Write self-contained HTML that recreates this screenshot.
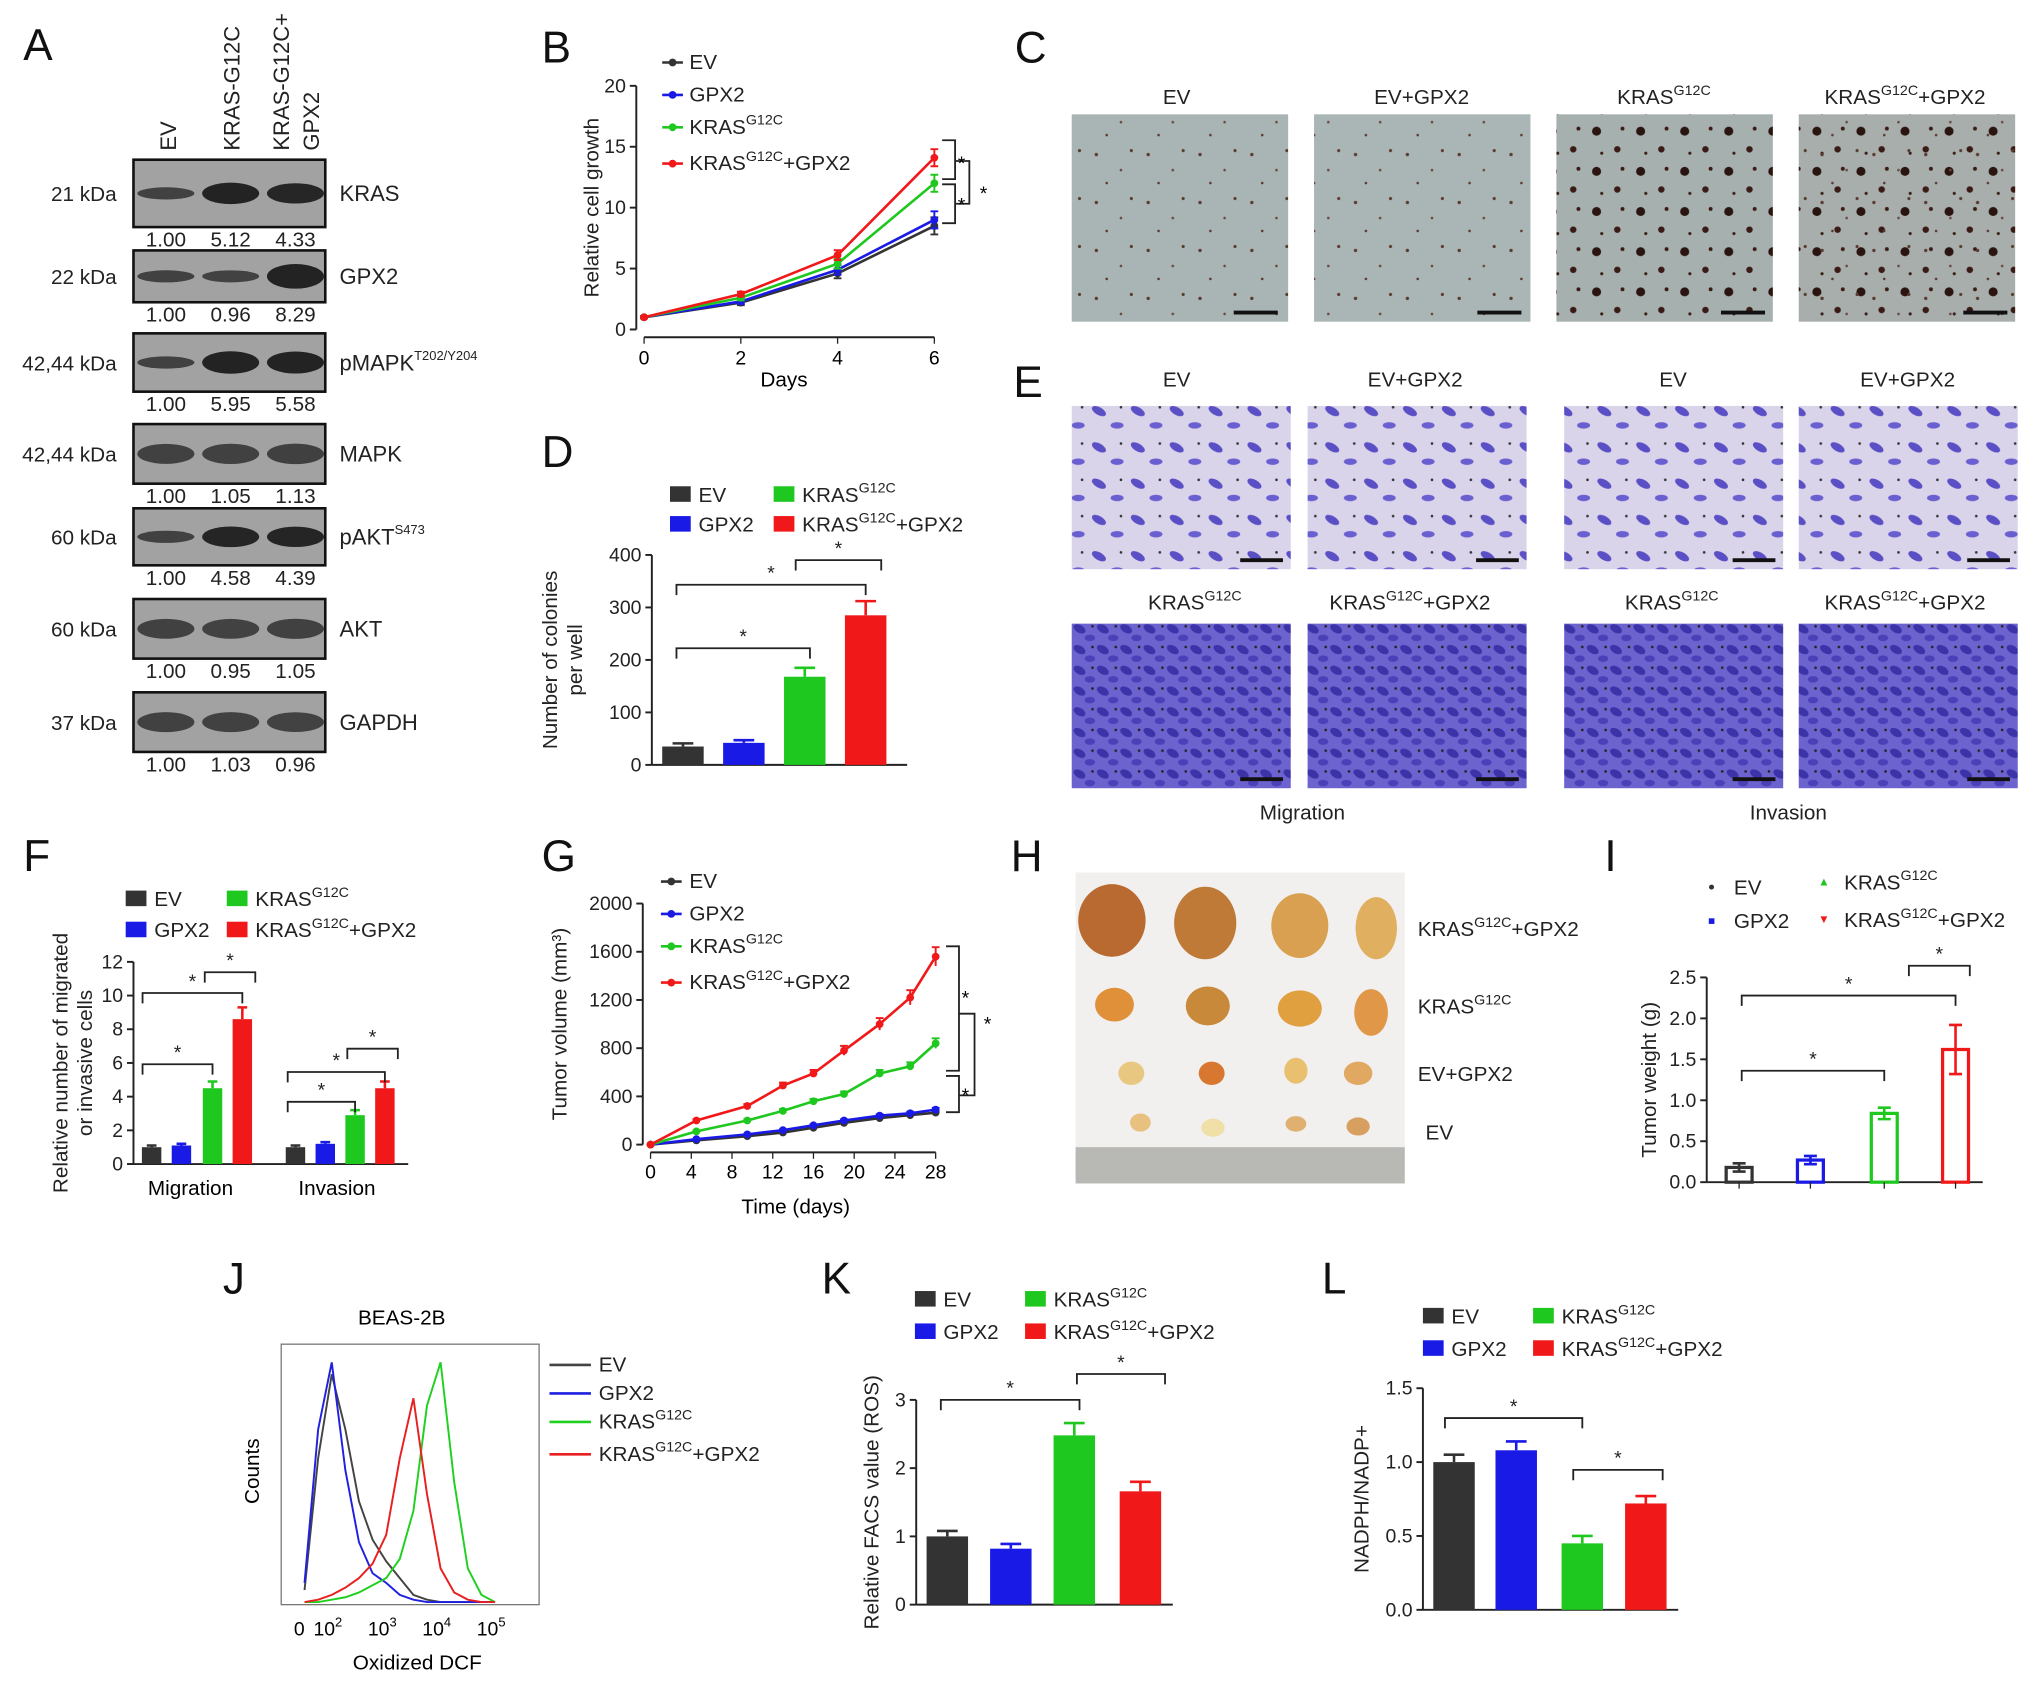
<!DOCTYPE html>
<html><head><meta charset="utf-8"><style>
html,body{margin:0;padding:0;background:#fff;}
svg{display:block;font-family:"Liberation Sans",Arial,sans-serif;}
</style></head><body>
<svg id="fig" width="2032" height="1684" viewBox="0 0 1568 1299" xmlns="http://www.w3.org/2000/svg">
<defs>
<pattern id="colony" width="40" height="37" patternUnits="userSpaceOnUse"><circle cx="6" cy="8" r="1.3" fill="#5a3a30"/><circle cx="25" cy="20" r="1" fill="#6a4a40"/><circle cx="33" cy="5" r="1.2" fill="#5a3a30"/><circle cx="14" cy="30" r="1" fill="#5a3a30"/></pattern>
<pattern id="colonyBig" width="34" height="31" patternUnits="userSpaceOnUse"><circle cx="8" cy="8" r="3.5" fill="#2a1410"/><circle cx="24" cy="22" r="2.5" fill="#3a1a14"/><circle cx="28" cy="6" r="1.5" fill="#3a1a14"/><circle cx="12" cy="25" r="1.2" fill="#3a1a14"/></pattern>
<pattern id="cellsLow" width="30" height="28" patternUnits="userSpaceOnUse"><rect width="30" height="28" fill="#d9d4ea"/><ellipse cx="8" cy="9" rx="6" ry="3" fill="#5a4fc4" transform="rotate(30 8 9)"/><ellipse cx="22" cy="20" rx="5" ry="2.5" fill="#6a5fd0"/><circle cx="25" cy="6" r="1" fill="#333"/></pattern>
<pattern id="cellsHigh" width="18" height="16" patternUnits="userSpaceOnUse"><rect width="18" height="16" fill="#6c63cf"/><ellipse cx="5" cy="5" rx="5" ry="3" fill="#3c33a8" transform="rotate(30 5 5)"/><ellipse cx="13" cy="12" rx="4" ry="2.5" fill="#4a40b8"/><circle cx="15" cy="3" r="1" fill="#222"/></pattern>
</defs>

<g font-size="34" fill="#111">
<text x="18" y="46">A</text><text x="418" y="48">B</text><text x="783" y="48">C</text>
<text x="418" y="360">D</text><text x="782" y="306">E</text><text x="18" y="672">F</text>
<text x="418" y="672">G</text><text x="780" y="672">H</text><text x="1238" y="672">I</text>
<text x="172" y="998">J</text><text x="634" y="998">K</text><text x="1020" y="998">L</text>
</g>

<g font-size="17" fill="#222">
<text transform="translate(136,116) rotate(-90)">EV</text>
<text transform="translate(185,116) rotate(-90)">KRAS-G12C</text>
<text transform="translate(223,116) rotate(-90)">KRAS-G12C+</text>
<text transform="translate(246,116) rotate(-90)">GPX2</text>
<g id="blots"></g>
</g>

<g font-size="16" fill="#222" text-anchor="middle">
<rect x="827" y="88" width="167" height="160" fill="#a9b4b4"/><rect x="827" y="88" width="167" height="160" fill="url(#colony)"/>
<rect x="1014" y="88" width="167" height="160" fill="#aab5b5"/><rect x="1014" y="88" width="167" height="160" fill="url(#colony)"/>
<rect x="1201" y="88" width="167" height="160" fill="#a6b0ae"/><rect x="1201" y="88" width="167" height="160" fill="url(#colonyBig)"/>
<rect x="1388" y="88" width="167" height="160" fill="#a7aeac"/><rect x="1388" y="88" width="167" height="160" fill="url(#colonyBig)"/><rect x="1388" y="88" width="167" height="160" fill="url(#colony)"/>
<g stroke="#111" stroke-width="3"><line x1="952" y1="241" x2="986" y2="241"/><line x1="1140" y1="241" x2="1174" y2="241"/><line x1="1328" y1="241" x2="1362" y2="241"/><line x1="1515" y1="241" x2="1549" y2="241"/></g>
<text x="908" y="80">EV</text><text x="1097" y="80">EV+GPX2</text>
<text x="1284" y="80">KRAS<tspan font-size="11" dy="-7">G12C</tspan></text>
<text x="1470" y="80">KRAS<tspan font-size="11" dy="-7">G12C</tspan><tspan dy="7">+GPX2</tspan></text>
</g>

<g font-size="16" fill="#222" text-anchor="middle">
<rect x="827" y="313" width="169" height="126" fill="url(#cellsLow)"/>
<rect x="1009" y="313" width="169" height="126" fill="url(#cellsLow)"/>
<rect x="1207" y="313" width="169" height="126" fill="url(#cellsLow)"/>
<rect x="1388" y="313" width="169" height="126" fill="url(#cellsLow)"/>
<rect x="827" y="481" width="169" height="127" fill="url(#cellsHigh)"/>
<rect x="1009" y="481" width="169" height="127" fill="url(#cellsHigh)"/>
<rect x="1207" y="481" width="169" height="127" fill="url(#cellsHigh)"/>
<rect x="1388" y="481" width="169" height="127" fill="url(#cellsHigh)"/>
<g stroke="#111" stroke-width="3"><line x1="957" y1="432" x2="990" y2="432"/><line x1="1139" y1="432" x2="1172" y2="432"/><line x1="1337" y1="432" x2="1370" y2="432"/><line x1="1518" y1="432" x2="1551" y2="432"/><line x1="957" y1="601" x2="990" y2="601"/><line x1="1139" y1="601" x2="1172" y2="601"/><line x1="1337" y1="601" x2="1370" y2="601"/><line x1="1518" y1="601" x2="1551" y2="601"/></g>
<text x="908" y="298">EV</text><text x="1092" y="298">EV+GPX2</text><text x="1291" y="298">EV</text><text x="1472" y="298">EV+GPX2</text>
<text x="922" y="470">KRAS<tspan font-size="11" dy="-7">G12C</tspan></text>
<text x="1088" y="470">KRAS<tspan font-size="11" dy="-7">G12C</tspan><tspan dy="7">+GPX2</tspan></text>
<text x="1290" y="470">KRAS<tspan font-size="11" dy="-7">G12C</tspan></text>
<text x="1470" y="470">KRAS<tspan font-size="11" dy="-7">G12C</tspan><tspan dy="7">+GPX2</tspan></text>
<text x="1005" y="632">Migration</text>
<text x="1380" y="632">Invasion</text>
</g>

<g>
<rect x="830" y="673" width="254" height="240" fill="#f1f0ee"/>
<rect x="830" y="885" width="254" height="28" fill="#b8b8b4"/>
<g fill="#c88a3a"><ellipse cx="858" cy="710" rx="26" ry="28" fill="#b86a30"/><ellipse cx="930" cy="712" rx="24" ry="28" fill="#c07a38"/><ellipse cx="1003" cy="714" rx="22" ry="25" fill="#d8a050"/><ellipse cx="1062" cy="716" rx="16" ry="24" fill="#e0b060"/>
<ellipse cx="860" cy="775" rx="15" ry="13" fill="#e09038"/><ellipse cx="932" cy="776" rx="17" ry="15"/><ellipse cx="1003" cy="778" rx="17" ry="14" fill="#e0a040"/><ellipse cx="1058" cy="781" rx="13" ry="18" fill="#e09848"/>
<ellipse cx="873" cy="828" rx="10" ry="9" fill="#e8c880"/><ellipse cx="935" cy="828" rx="10" ry="9" fill="#d87830"/><ellipse cx="1000" cy="826" rx="9" ry="10" fill="#e8c070"/><ellipse cx="1048" cy="828" rx="11" ry="9" fill="#e0a860"/>
<ellipse cx="880" cy="866" rx="8" ry="7" fill="#e8c080"/><ellipse cx="936" cy="870" rx="9" ry="7" fill="#f0e0a8"/><ellipse cx="1000" cy="867" rx="8" ry="6" fill="#e0b070"/><ellipse cx="1048" cy="869" rx="9" ry="7" fill="#d8a060"/></g>
<g font-size="16" fill="#222"><text x="1094" y="722">KRAS<tspan font-size="11" dy="-7">G12C</tspan><tspan dy="7">+GPX2</tspan></text>
<text x="1094" y="782">KRAS<tspan font-size="11" dy="-7">G12C</tspan></text>
<text x="1094" y="834">EV+GPX2</text><text x="1100" y="879">EV</text></g>
</g>

<g id="charts"></g>
</svg>

<script>
const NS="http://www.w3.org/2000/svg";
const root=document.getElementById('charts');
function mk(tag,a,p){const e=document.createElementNS(NS,tag);for(const k in a)e.setAttribute(k,a[k]);(p||root).appendChild(e);return e;}
function txt(s,a,p){const e=mk('text',a,p);e.textContent=s;return e;}
const C={ev:'#333333',gpx2:'#1a1ae6',kras:'#1ec81e',kg:'#f01818'};

const blotProteins=['KRAS','GPX2','pMAPK','MAPK','pAKT','AKT','GAPDH'];
const blotKDa=['21 kDa','22 kDa','42,44 kDa','42,44 kDa','60 kDa','60 kDa','37 kDa'];
const blotQuant=[[1.00,5.12,4.33],[1.00,0.96,8.29],[1.00,5.95,5.58],[1.00,1.05,1.13],[1.00,4.58,4.39],[1.00,0.95,1.05],[1.00,1.03,0.96]];
const blotTop=[123,193,257,327,392,462,534];
const blotH=[52,40,45,46,44,46,46];
(function(){
 const g=document.getElementById('blots');
 blotProteins.forEach((p,i)=>{
  const y=blotTop[i],h=blotH[i];
  const r=mk('rect',{x:103,y:y,width:148,height:h,fill:'#a2a2a2',stroke:'#111','stroke-width':2},g);
  
  
  [128,178,228].forEach((cx,j)=>{
   const q=blotQuant[i][j];const s=Math.min(1,Math.log(1+q)/Math.log(9));
   const b=mk('ellipse',{cx:cx,cy:y+h/2,rx:22,ry:2.5+s*7+(i>=3&&i!==4?3:0),fill:'#151515','fill-opacity':0.45+0.45*Math.min(1,s+0.2)},g);
   
   
   const t=txt(q.toFixed(2),{x:cx,y:y+h+15,'text-anchor':'middle','font-size':16},g);
   
   
  });
  const k=txt(blotKDa[i],{x:90,y:y+h/2+6,'text-anchor':'end','font-size':16},g);
  
  
  const lab=txt(p,{x:262,y:y+h/2+6,'font-size':17},g);
  
  
  if(p==='pMAPK'){const ts=mk('tspan',{'font-size':10,dy:-8},lab);ts.textContent='T202/Y204';}
  if(p==='pAKT'){const ts=mk('tspan',{'font-size':10,dy:-8},lab);ts.textContent='S473';}
 });
})();

function yAxis(x,sy,ticks,fmt,yTop,yBot,title,tx){
 const a=mk('line',{x1:x,y1:yTop,x2:x,y2:yBot,stroke:'#222','stroke-width':1.5});
 
 
 ticks.forEach(v=>{mk('line',{x1:x-5,y1:sy(v),x2:x,y2:sy(v),stroke:'#222','stroke-width':1.5});
  const t=txt(fmt(v),{x:x-8,y:sy(v)+5,'text-anchor':'end','font-size':15,fill:'#222'});
  
  });
 if(title){const t=txt('',{transform:`translate(${tx},${(yTop+yBot)/2}) rotate(-90)`,'text-anchor':'middle','font-size':16,fill:'#222'});
  title.forEach((s,i)=>{const ts=mk('tspan',{x:0,dy:i?19:0},t);ts.textContent=s;});
  
  }
}
function xLine(x1,x2,y){const l=mk('line',{x1:x1,y1:y,x2:x2,y2:y,stroke:'#222','stroke-width':1.5});
 
 }
function bracket(x1,x2,y,label){const p=mk('path',{d:`M${x1},${y+8}V${y}H${x2}V${y+8}`,fill:'none',stroke:'#222','stroke-width':1.4});
 
 
 const t=txt('*',{x:(x1+x2)/2,y:y-4,'text-anchor':'middle','font-size':15,fill:'#222'});
 
 }
function legendText(x,y,label,fs){const t=txt('',{x:x,y:y,'font-size':fs||16,fill:'#222'});
 const parts=label.split('^');const a=mk('tspan',{},t);a.textContent=parts[0];
 if(parts.length>1){const b=mk('tspan',{'font-size':11,dy:-7},t);b.textContent='G12C';const c=mk('tspan',{dy:7},t);c.textContent=parts[1];}
 
 return t;}
function barLegend(items,x1,x2,y1,y2){items.forEach((it,i)=>{const x=i%2?x2:x1,y=i<2?y1:y2;
 const r=mk('rect',{x:x,y:y-12,width:16,height:12,fill:it[1]});
 
 
 legendText(x+22,y,it[0]);});}
const groupNames=['EV','GPX2','KRAS^','KRAS^+GPX2'];
const groupCols=[C.ev,C.gpx2,C.kras,C.kg];
function bars(xs,vals,errs,sy,w,cols,name){vals.forEach((v,i)=>{
 const r=mk('rect',{x:xs[i]-w/2,y:sy(v),width:w,height:sy(0)-sy(v),fill:cols[i%4]});
 
 
 const e=mk('path',{d:`M${xs[i]},${sy(v)}V${sy(v+errs[i])}M${xs[i]-w/4},${sy(v+errs[i])}H${xs[i]+w/4}`,stroke:cols[i%4],'stroke-width':2,fill:'none'});
 
 });}

const bDays=[0,2,4,6];
const bEV=[1,2.2,4.6,8.5],bGPX2=[1,2.3,4.9,9.0],bKRAS=[1,2.6,5.4,12.0],bKG=[1,2.9,6.1,14.1];
const bErr=[0.1,0.2,0.4,0.7];
const bYTicks=[0,5,10,15,20],bXTicks=[0,2,4,6];
(function(){
 const sx=d=>497+d*(224/6),sy=v=>254-v*(188/20);
 yAxis(491,sy,bYTicks,v=>v,66,254,['Relative cell growth'],462);
 xLine(497,721,260);
 bXTicks.forEach(d=>{mk('line',{x1:sx(d),y1:260,x2:sx(d),y2:265,stroke:'#222'});const t=txt(d,{x:sx(d),y:281,'text-anchor':'middle','font-size':15});});
 const xt=txt('Days',{x:605,y:298,'text-anchor':'middle','font-size':16});
 [bEV,bGPX2,bKRAS,bKG].forEach((s,k)=>{
  const l=mk('polyline',{points:s.map((v,i)=>sx(bDays[i])+','+sy(v)).join(' '),fill:'none',stroke:groupCols[k],'stroke-width':2});
  
  
  s.forEach((v,i)=>{const m=mk('circle',{cx:sx(bDays[i]),cy:sy(v),r:3,fill:groupCols[k]});
   mk('path',{d:`M${sx(bDays[i])-3},${sy(v-bErr[i])}h6M${sx(bDays[i])},${sy(v-bErr[i])}V${sy(v+bErr[i])}M${sx(bDays[i])-3},${sy(v+bErr[i])}h6`,stroke:groupCols[k],'stroke-width':1.5});});
  const ly=[53,78,103,131][k];
  mk('line',{x1:511,y1:ly-5,x2:527,y2:ly-5,stroke:groupCols[k],'stroke-width':2});mk('circle',{cx:519,cy:ly-5,r:3,fill:groupCols[k]});
  legendText(532,ly,groupNames[k]);
 });
 mk('path',{d:'M727,108H737V138H727M727,142H737V172H727M737,124H748V157H737',fill:'none',stroke:'#222','stroke-width':1.4});
 txt('*',{x:742,y:131,'font-size':15,'text-anchor':'middle'});txt('*',{x:742,y:163,'font-size':15,'text-anchor':'middle'});txt('*',{x:759,y:154,'font-size':15,'text-anchor':'middle'});
})();

const dVals=[35,42,168,285],dErr=[6,5,17,27];
const dTicks=[0,100,200,300,400];
(function(){
 const sy=v=>590-v*(162/400);const xs=[527,574,621,668];
 yAxis(503,sy,dTicks,v=>v,428,590,['Number of colonies','per well'],430);
 xLine(503,700,590);
 bars(xs,dVals,dErr,sy,32,groupCols,'colony');
 barLegend([['EV',C.ev],['KRAS^',C.kras],['GPX2',C.gpx2],['KRAS^+GPX2',C.kg]],517,597,387,410);
 bracket(522,625,500,'*');bracket(522,668,451,'*');bracket(614,680,432,'*');
})();

const fGroups=['Migration','Invasion'];
const fMig=[1.0,1.1,4.5,8.6],fInv=[1.0,1.2,2.9,4.5];
const fErrM=[0.1,0.1,0.4,0.7],fErrI=[0.1,0.1,0.3,0.4];
const fTicks=[0,2,4,6,8,10,12];
(function(){
 const sy=v=>898-v*(156/12);
 yAxis(103,sy,fTicks,v=>v,742,898,['Relative number of migrated','or invasive cells'],52);
 xLine(103,315,898);
 bars([117,140,164,187],fMig,fErrM,sy,15,groupCols,'migration');
 bars([228,251,274,297],fInv,fErrI,sy,15,groupCols,'invasion');
 fGroups.forEach((g,i)=>{const t=txt(g,{x:[147,260][i],y:922,'text-anchor':'middle','font-size':16});});
 barLegend([['EV',C.ev],['KRAS^',C.kras],['GPX2',C.gpx2],['KRAS^+GPX2',C.kg]],97,175,699,723);
 bracket(110,164,821,'*');bracket(110,187,766,'*');bracket(158,197,750,'*');
 bracket(222,274,850,'*');bracket(222,297,827,'*');bracket(268,307,809,'*');
})();

const gDays=[0,4.5,9.5,13,16,19,22.5,25.5,28];
const gEV=[0,35,70,100,140,180,220,245,265];
const gGPX2=[0,45,85,120,160,200,240,260,290];
const gKRAS=[0,110,200,280,360,420,590,650,840];
const gKG=[0,200,320,490,590,780,1000,1220,1560];
const gYTicks=[0,400,800,1200,1600,2000],gXTicks=[0,4,8,12,16,20,24,28];
(function(){
 const sx=d=>502+d*(220/28),sy=v=>883-v*(186/2000);
 yAxis(496,sy,gYTicks,v=>v,697,883,['Tumor volume (mm³)'],437);
 xLine(502,722,889);
 gXTicks.forEach(d=>{mk('line',{x1:sx(d),y1:889,x2:sx(d),y2:894,stroke:'#222'});const t=txt(d,{x:sx(d),y:909,'text-anchor':'middle','font-size':15});});
 const xt=txt('Time (days)',{x:614,y:936,'text-anchor':'middle','font-size':16});
 [gEV,gGPX2,gKRAS,gKG].forEach((s,k)=>{
  const l=mk('polyline',{points:s.map((v,i)=>sx(gDays[i])+','+sy(v)).join(' '),fill:'none',stroke:groupCols[k],'stroke-width':2});
  
  
  s.forEach((v,i)=>{const m=mk('circle',{cx:sx(gDays[i]),cy:sy(v),r:3,fill:groupCols[k]});
   const e=v*0.05;mk('path',{d:`M${sx(gDays[i])},${sy(v-e)}V${sy(v+e)}M${sx(gDays[i])-3},${sy(v+e)}h6`,stroke:groupCols[k],'stroke-width':1.5});});
  const ly=[685,710,735,763][k];
  mk('line',{x1:510,y1:ly-5,x2:526,y2:ly-5,stroke:groupCols[k],'stroke-width':2});mk('circle',{cx:518,cy:ly-5,r:3,fill:groupCols[k]});
  legendText(532,ly,groupNames[k]);
 });
 mk('path',{d:'M730,730H740V826H730M730,830H740V858H730M740,782H752V845H740',fill:'none',stroke:'#222','stroke-width':1.4});
 txt('*',{x:745,y:775,'font-size':15,'text-anchor':'middle'});txt('*',{x:745,y:850,'font-size':15,'text-anchor':'middle'});txt('*',{x:762,y:795,'font-size':15,'text-anchor':'middle'});
})();

const iVals=[0.18,0.27,0.84,1.62],iErr=[0.05,0.05,0.07,0.3];
const iTicks=[0,0.5,1.0,1.5,2.0,2.5];
(function(){
 const sy=v=>912-v*(158/2.5);const xs=[1342,1397,1454,1509];
 yAxis(1317,sy,iTicks,v=>v.toFixed(1),754,912,['Tumor weight (g)'],1278);
 xLine(1317,1530,912);
 iVals.forEach((v,i)=>{const r=mk('rect',{x:xs[i]-10,y:sy(v),width:20,height:sy(0)-sy(v),fill:'none',stroke:groupCols[i],'stroke-width':2.5});
  
  
  mk('path',{d:`M${xs[i]},${sy(v-iErr[i])}V${sy(v+iErr[i])}M${xs[i]-5},${sy(v+iErr[i])}h10M${xs[i]-5},${sy(v-iErr[i])}h10`,stroke:groupCols[i],'stroke-width':2});
  mk('line',{x1:xs[i],y1:912,x2:xs[i],y2:917,stroke:'#222'});});
 [['EV','●',C.ev,1318,687],['KRAS^','▲',C.kras,1403,683],['GPX2','■',C.gpx2,1318,713],['KRAS^+GPX2','▼',C.kg,1403,712]].forEach(a=>{
  const m=txt(a[1],{x:a[3],y:a[4],'font-size':9,fill:a[2]});
  legendText(a[3]+20,a[4]+3,a[0]);});
 bracket(1344,1454,826,'*');bracket(1344,1509,768,'*');bracket(1473,1520,745,'*');
})();

const jLog=[1.5,1.75,2.0,2.25,2.5,2.75,3.0,3.25,3.5,3.75,4.0,4.25,4.5,4.75,5.0];
const jEV=[5,60,95,72,42,26,17,10,3,1,0,0,0,0,0];
const jGPX2=[8,72,100,55,25,12,8,3,1,0,0,0,0,0,0];
const jKRAS=[0,0,1,2,4,7,10,18,38,82,100,50,14,3,0];
const jKG=[0,1,3,6,10,16,28,60,85,45,14,4,1,0,0];
const jTicks=[0,2,3,4,5];
(function(){
 const sx=l=>172+l*42,sy=c=>1236-c*1.85;
 const box=mk('rect',{x:217,y:1037,width:199,height:201,fill:'none',stroke:'#777','stroke-width':1});
 
 
 [jEV,jGPX2,jKRAS,jKG].forEach((s,k)=>{
  const l=mk('polyline',{points:s.map((c,i)=>sx(jLog[i])+','+sy(c)).join(' '),fill:'none',stroke:['#444','#2020e0','#20d020','#e82020'][k],'stroke-width':1.5});
  
  
  const ly=[1058,1080,1102,1127][k];
  mk('line',{x1:424,y1:ly-5,x2:456,y2:ly-5,stroke:['#444','#2020e0','#20d020','#e82020'][k],'stroke-width':2});
  legendText(462,ly,groupNames[k]);
 });
 jTicks.forEach(t=>{const x=t===0?234:sx(t);const e=txt(t===0?'0':'10',{x:x-3,y:1262,'text-anchor':'middle','font-size':15});
  if(t){const s=mk('tspan',{'font-size':10,dy:-7},e);s.textContent=t;}
  
  });
 const tt=txt('BEAS-2B',{x:310,y:1022,'text-anchor':'middle','font-size':16});
 const xt=txt('Oxidized DCF',{x:322,y:1288,'text-anchor':'middle','font-size':16});
 const yt=txt('Counts',{transform:'translate(200,1135) rotate(-90)','text-anchor':'middle','font-size':16});
})();

const kVals=[1.0,0.82,2.48,1.66],kErr=[0.08,0.07,0.18,0.14];
const kTicks=[0,1,2,3];
(function(){
 const sy=v=>1238-v*(158/3);const xs=[731,780,829,880];
 yAxis(707,sy,kTicks,v=>v,1080,1238,['Relative FACS value (ROS)'],678);
 xLine(707,905,1238);
 bars(xs,kVals,kErr,sy,32,groupCols,'ros');
 barLegend([['EV',C.ev],['KRAS^',C.kras],['GPX2',C.gpx2],['KRAS^+GPX2',C.kg]],706,791,1008,1033);
 bracket(726,833,1080,'*');bracket(831,899,1060,'*');
})();

const lVals=[1.0,1.08,0.45,0.72],lErr=[0.05,0.06,0.05,0.05];
const lTicks=[0,0.5,1.0,1.5];
(function(){
 const sy=v=>1242-v*(171/1.5);const xs=[1122,1170,1221,1270];
 yAxis(1098,sy,lTicks,v=>v.toFixed(1),1071,1242,['NADPH/NADP+'],1056);
 xLine(1098,1295,1242);
 bars(xs,lVals,lErr,sy,32,groupCols,'nadph');
 barLegend([['EV',C.ev],['KRAS^',C.kras],['GPX2',C.gpx2],['KRAS^+GPX2',C.kg]],1098,1183,1021,1046);
 bracket(1115,1221,1094,'*');bracket(1214,1283,1134,'*');
})();
</script>
</body></html>
